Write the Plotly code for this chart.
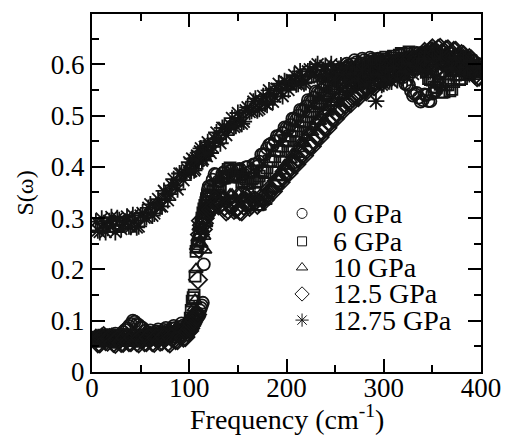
import plotly.graph_objects as go

# ---- readings on a 4 cm-1 grid ----
FREQ = [4,8,12,16,20,24,28,32,36,40,44,48,52,56,60,64,68,72,76,80,84,88,92,96,
        100,102,104,106,108,110,112,114,116,118,120,
        124,128,132,136,140,144,148,152,156,160,164,168,172,176,180,184,188,192,196,200,
        204,208,212,216,220,224,228,232,236,240,244,248,252,256,260,264,268,272,276,280,
        284,288,292,296,300,304,308,312,316,320,324,328,332,336,340,344,348,352,356,360,
        364,368,372,376,380,384,388,392,396]

S_0GPA = [0.062,0.070,0.064,0.072,0.066,0.075,0.068,0.078,0.085,0.094,0.098,0.092,0.086,0.074,0.081,0.072,0.083,0.076,0.086,0.078,0.090,0.082,0.095,0.088,
          0.100,0.092,0.108,0.100,0.115,0.110,0.125,0.135,0.300,0.345,0.362,
          0.375,0.385,0.372,0.390,0.380,0.393,0.383,0.396,0.386,0.400,0.392,0.405,0.410,0.425,0.436,0.445,0.450,0.460,0.466,0.476,
          0.482,0.494,0.500,0.510,0.518,0.528,0.535,0.545,0.550,0.560,0.566,0.575,0.580,0.588,0.592,0.598,0.600,0.604,0.602,0.608,
          0.604,0.610,0.606,0.604,0.600,0.606,0.598,0.600,0.590,0.575,0.560,0.548,0.542,0.535,0.530,0.540,0.528,0.545,0.565,0.585,
          0.600,0.612,0.605,0.615,0.606,0.612,0.600,0.605,0.595]

S_6GPA = [0.068,0.060,0.072,0.062,0.070,0.058,0.068,0.061,0.073,0.064,0.071,0.060,0.069,0.063,0.074,0.066,0.075,0.064,0.077,0.068,0.079,0.072,0.083,0.078,
          0.088,0.120,0.145,0.187,0.245,0.258,0.290,0.310,0.325,0.338,0.345,
          0.352,0.366,0.360,0.378,0.395,0.385,0.392,0.380,0.372,0.368,0.376,0.370,0.382,0.392,0.398,0.412,0.420,0.432,0.440,0.452,
          0.460,0.470,0.480,0.488,0.498,0.508,0.518,0.524,0.534,0.540,0.548,0.554,0.562,0.566,0.574,0.578,0.586,0.588,0.594,0.592,
          0.598,0.600,0.606,0.602,0.610,0.606,0.612,0.608,0.618,0.612,0.620,0.615,0.622,0.610,0.598,0.585,0.570,0.556,0.565,0.545,
          0.560,0.548,0.566,0.580,0.572,0.590,0.582,0.598,0.590]

S_10GPA = [0.060,0.068,0.058,0.066,0.061,0.070,0.059,0.067,0.062,0.071,0.060,0.069,0.063,0.072,0.062,0.070,0.065,0.074,0.066,0.075,0.069,0.078,0.074,0.084,
           0.092,0.100,0.115,0.140,0.238,0.283,0.250,0.295,0.238,0.305,0.318,
           0.328,0.338,0.332,0.342,0.336,0.345,0.338,0.348,0.340,0.346,0.336,0.330,0.322,0.332,0.345,0.356,0.368,0.380,0.392,0.402,
           0.414,0.424,0.436,0.446,0.458,0.468,0.478,0.490,0.498,0.508,0.516,0.526,0.532,0.540,0.546,0.552,0.558,0.562,0.568,0.570,
           0.576,0.578,0.584,0.586,0.592,0.594,0.600,0.598,0.604,0.602,0.608,0.606,0.612,0.610,0.618,0.622,0.632,0.620,0.626,0.615,
           0.622,0.610,0.618,0.606,0.612,0.600,0.596,0.585,0.580]

S_12_5GPA = [0.065,0.056,0.070,0.059,0.067,0.055,0.064,0.057,0.066,0.058,0.068,0.056,0.065,0.058,0.067,0.057,0.066,0.060,0.068,0.056,0.070,0.062,0.074,0.068,
             0.080,0.090,0.098,0.105,0.112,0.240,0.295,0.278,0.300,0.312,0.320,
             0.326,0.334,0.328,0.322,0.316,0.326,0.318,0.314,0.324,0.330,0.326,0.334,0.330,0.338,0.346,0.354,0.362,0.372,0.380,0.390,
             0.398,0.406,0.416,0.424,0.432,0.442,0.450,0.460,0.468,0.478,0.486,0.496,0.504,0.512,0.520,0.526,0.534,0.538,0.546,0.550,
             0.556,0.560,0.566,0.570,0.574,0.578,0.584,0.588,0.592,0.596,0.600,0.604,0.608,0.612,0.616,0.620,0.626,0.624,0.630,0.622,
             0.628,0.618,0.626,0.614,0.620,0.605,0.612,0.595,0.575]

S_12_75GPA = [0.293,0.273,0.290,0.281,0.302,0.273,0.296,0.288,0.303,0.283,0.295,0.284,0.310,0.302,0.327,0.309,0.337,0.323,0.348,0.347,0.376,0.356,0.387,0.387,
              0.409,0.392,0.406,0.396,0.422,0.413,0.436,0.415,0.439,0.421,0.441,
              0.439,0.467,0.446,0.476,0.474,0.495,0.480,0.496,0.488,0.516,0.509,0.533,0.513,0.538,0.521,0.542,0.537,0.562,0.538,0.565,
              0.561,0.579,0.562,0.576,0.565,0.590,0.579,0.600,0.576,0.597,0.575,0.590,0.579,0.598,0.568,0.589,0.578,0.590,0.567,0.575,
              0.559,0.579,0.528,0.585,0.562,0.585,0.566,0.585,0.578,0.601,0.574,0.598,0.591,0.607,0.588,0.599,0.586,0.609,0.597,0.616,
              0.591,0.610,0.588,0.603,0.592,0.611,0.581,0.602,0.592]

# ---- readings at the in-between frequencies ----
FREQ_MID = [6,10,14,18,22,26,30,34,38,42,46,50,54,58,62,66,70,74,78,82,86,90,94,98,
            101,103,105,107,109,111,113,115,117,119,
            122,126,130,134,138,142,146,150,154,158,162,166,170,174,178,182,186,190,194,198,
            202,206,210,214,218,222,226,230,234,238,242,246,250,254,258,262,266,270,274,278,
            282,286,290,294,298,302,306,310,314,318,322,326,330,334,338,342,346,350,354,358,
            362,366,370,374,378,382,386,390,394,398]

M_0GPA = [0.068,0.066,0.070,0.067,0.072,0.069,0.074,0.082,0.090,0.100,0.094,0.088,0.080,0.077,0.075,0.079,0.078,0.082,0.081,0.085,0.086,0.088,0.091,0.094,
          0.097,0.104,0.103,0.110,0.113,0.120,0.130,0.210,0.330,0.355,
          0.362,0.386,0.372,0.387,0.379,0.392,0.382,0.395,0.385,0.399,0.390,0.405,0.401,0.424,0.424,0.443,0.442,0.460,0.458,0.477,
          0.474,0.494,0.492,0.511,0.509,0.530,0.527,0.547,0.543,0.562,0.558,0.577,0.572,0.590,0.585,0.601,0.593,0.608,0.597,0.611,
          0.600,0.613,0.602,0.611,0.596,0.609,0.596,0.605,0.589,0.589,0.562,0.560,0.539,0.544,0.527,0.541,0.528,0.543,0.549,0.581,
          0.586,0.612,0.602,0.616,0.605,0.615,0.600,0.608,0.594,0.600]

M_6GPA = [0.063,0.069,0.065,0.060,0.066,0.071,0.063,0.068,0.061,0.070,0.066,0.072,0.062,0.070,0.068,0.073,0.067,0.072,0.070,0.076,0.074,0.080,0.078,0.085,
          0.105,0.138,0.150,0.235,0.250,0.270,0.300,0.318,0.330,0.342,
          0.344,0.364,0.362,0.378,0.382,0.398,0.380,0.394,0.370,0.376,0.368,0.378,0.372,0.392,0.389,0.411,0.410,0.432,0.430,0.452,
          0.450,0.471,0.469,0.490,0.487,0.509,0.507,0.527,0.523,0.543,0.538,0.557,0.552,0.570,0.564,0.582,0.576,0.593,0.585,0.599,
          0.589,0.605,0.597,0.610,0.600,0.614,0.604,0.616,0.607,0.621,0.610,0.624,0.612,0.622,0.598,0.598,0.572,0.569,0.554,0.561,
          0.546,0.560,0.551,0.579,0.570,0.587,0.580,0.596,0.588,0.598]

M_10GPA = [0.064,0.062,0.068,0.063,0.067,0.064,0.070,0.063,0.068,0.065,0.071,0.064,0.069,0.066,0.072,0.067,0.071,0.069,0.073,0.071,0.076,0.075,0.081,0.088,
           0.096,0.108,0.125,0.200,0.262,0.268,0.280,0.265,0.290,0.312,
           0.318,0.338,0.330,0.342,0.334,0.345,0.337,0.348,0.339,0.348,0.336,0.338,0.321,0.332,0.333,0.355,0.357,0.379,0.381,0.402,
           0.403,0.424,0.425,0.446,0.447,0.468,0.468,0.489,0.489,0.508,0.507,0.526,0.524,0.541,0.538,0.554,0.550,0.565,0.560,0.574,
           0.568,0.582,0.576,0.590,0.584,0.598,0.592,0.604,0.596,0.608,0.600,0.612,0.604,0.616,0.609,0.625,0.620,0.631,0.618,0.625,
           0.613,0.621,0.609,0.617,0.604,0.611,0.593,0.595,0.577,0.583]

M_12_5GPA = [0.056,0.067,0.060,0.066,0.057,0.063,0.057,0.066,0.058,0.067,0.058,0.065,0.058,0.067,0.058,0.066,0.059,0.068,0.058,0.067,0.062,0.072,0.067,0.078,
             0.085,0.094,0.102,0.108,0.180,0.268,0.286,0.290,0.306,0.316,
             0.317,0.336,0.325,0.331,0.313,0.327,0.316,0.322,0.313,0.333,0.322,0.336,0.326,0.340,0.336,0.356,0.352,0.373,0.370,0.391,
             0.388,0.408,0.405,0.426,0.422,0.443,0.440,0.461,0.458,0.479,0.476,0.497,0.494,0.514,0.510,0.529,0.524,0.542,0.536,0.554,
             0.547,0.564,0.557,0.574,0.566,0.582,0.575,0.592,0.584,0.600,0.592,0.608,0.600,0.616,0.608,0.624,0.617,0.631,0.621,0.632,
             0.619,0.629,0.616,0.626,0.611,0.618,0.602,0.609,0.579,0.576]

M_12_75GPA = [0.276,0.299,0.273,0.294,0.285,0.300,0.279,0.293,0.284,0.306,0.282,0.305,0.301,0.320,0.305,0.325,0.323,0.353,0.335,0.364,0.364,0.387,0.374,0.395,
              0.391,0.416,0.393,0.417,0.412,0.430,0.412,0.429,0.423,0.448,
              0.427,0.455,0.454,0.476,0.462,0.482,0.478,0.505,0.484,0.510,0.507,0.527,0.510,0.528,0.523,0.549,0.527,0.552,0.548,0.567,
              0.550,0.567,0.561,0.586,0.563,0.586,0.579,0.595,0.575,0.589,0.579,0.600,0.572,0.591,0.581,0.594,0.570,0.581,0.569,0.588,
              0.559,0.577,0.566,0.580,0.560,0.576,0.569,0.593,0.569,0.592,0.585,0.601,0.581,0.596,0.588,0.611,0.585,0.606,0.598,0.612,
              0.590,0.603,0.592,0.613,0.585,0.604,0.594,0.607,0.584,0.595]

LABELS = ["0 GPa", "6 GPa", "10 GPa", "12.5 GPa", "12.75 GPa"]
SERIES = [S_0GPA, S_6GPA, S_10GPA, S_12_5GPA, S_12_75GPA]
SERIES_MID = [M_0GPA, M_6GPA, M_10GPA, M_12_5GPA, M_12_75GPA]
SYMBOLS = ["circle-open", "square-open", "triangle-up-open", "diamond-open", "asterisk-open"]
SIZES = [12, 11, 12, 14, 14]

for s in SERIES:
    assert len(s) == len(FREQ), len(s)
for s in SERIES_MID:
    assert len(s) == len(FREQ_MID), len(s)

INK = "#141414"
FONT = "Liberation Serif, Times New Roman, Times, DejaVu Serif, serif"

fig = go.Figure()
for lab, ys, ym, sym, sz in zip(LABELS, SERIES, SERIES_MID, SYMBOLS, SIZES):
    fig.add_trace(go.Scatter(
        x=FREQ + FREQ_MID, y=ys + ym, mode="markers", name=lab, showlegend=False,
        marker=dict(symbol=sym, size=sz, color=INK, line=dict(color=INK, width=1.8)),
    ))

# legend drawn on an invisible overlay axis
LEG_X = 0.54
LEG_Y = [0.443, 0.365, 0.292, 0.218, 0.145]
LEG_SIZES = [10, 9, 10, 11, 11]
for lab, sym, ly, sz in zip(LABELS, SYMBOLS, LEG_Y, LEG_SIZES):
    fig.add_trace(go.Scatter(
        x=[LEG_X], y=[ly], xaxis="x2", yaxis="y2", mode="markers", showlegend=False,
        marker=dict(symbol=sym, size=sz, color=INK, line=dict(color=INK, width=1)),
        hoverinfo="skip",
    ))
    fig.add_annotation(x=0.615, y=ly, xref="x2", yref="y2", text=lab, showarrow=False,
                       xanchor="left", yanchor="middle",
                       font=dict(family=FONT, size=28, color="black"))

axis_common = dict(
    showline=True, linecolor="black", linewidth=2, mirror="ticks",
    ticks="inside", ticklen=13, tickwidth=1.5, tickcolor="black",
    showgrid=False, zeroline=False,
    tickfont=dict(family=FONT, size=27, color="black"),
)

fig.update_layout(
    width=513, height=447,
    margin=dict(l=92, r=23, t=13, b=75),
    paper_bgcolor="white", plot_bgcolor="white",
    showlegend=False,
    font=dict(family=FONT, color="black"),
    xaxis=dict(range=[0, 400], tickmode="array", tickvals=[0, 100, 200, 300, 400],
               ticklabelstandoff=-9,
               minor=dict(tickmode="array", tickvals=[50, 150, 250, 350], ticks="inside",
                          ticklen=7, tickwidth=1.5, tickcolor="black"),
               **axis_common),
    yaxis=dict(range=[0, 0.698], tickmode="array", tickvals=[0, 0.1, 0.2, 0.3, 0.4, 0.5, 0.6],
               ticktext=["0", "0.1", "0.2", "0.3", "0.4", "0.5", "0.6"],
               minor=dict(tickmode="array", tickvals=[0.05, 0.15, 0.25, 0.35, 0.45, 0.55, 0.65],
                          ticks="inside", ticklen=7, tickwidth=1.5, tickcolor="black"),
               **axis_common),
    xaxis2=dict(overlaying="x", range=[0, 1], visible=False),
    yaxis2=dict(overlaying="y", range=[0, 1], visible=False),
)

fig.add_annotation(x=0.5, y=-0.128, xref="paper", yref="paper",
                   text="Frequency (cm<sup>-1</sup>)", showarrow=False,
                   xanchor="center", yanchor="middle",
                   font=dict(family=FONT, size=28, color="black"))
fig.add_annotation(x=-0.171, y=0.5, xref="paper", yref="paper",
                   text="S(ω)", showarrow=False, textangle=-90,
                   xanchor="center", yanchor="middle",
                   font=dict(family=FONT, size=24, color="black"))

fig.write_html("out.html")
